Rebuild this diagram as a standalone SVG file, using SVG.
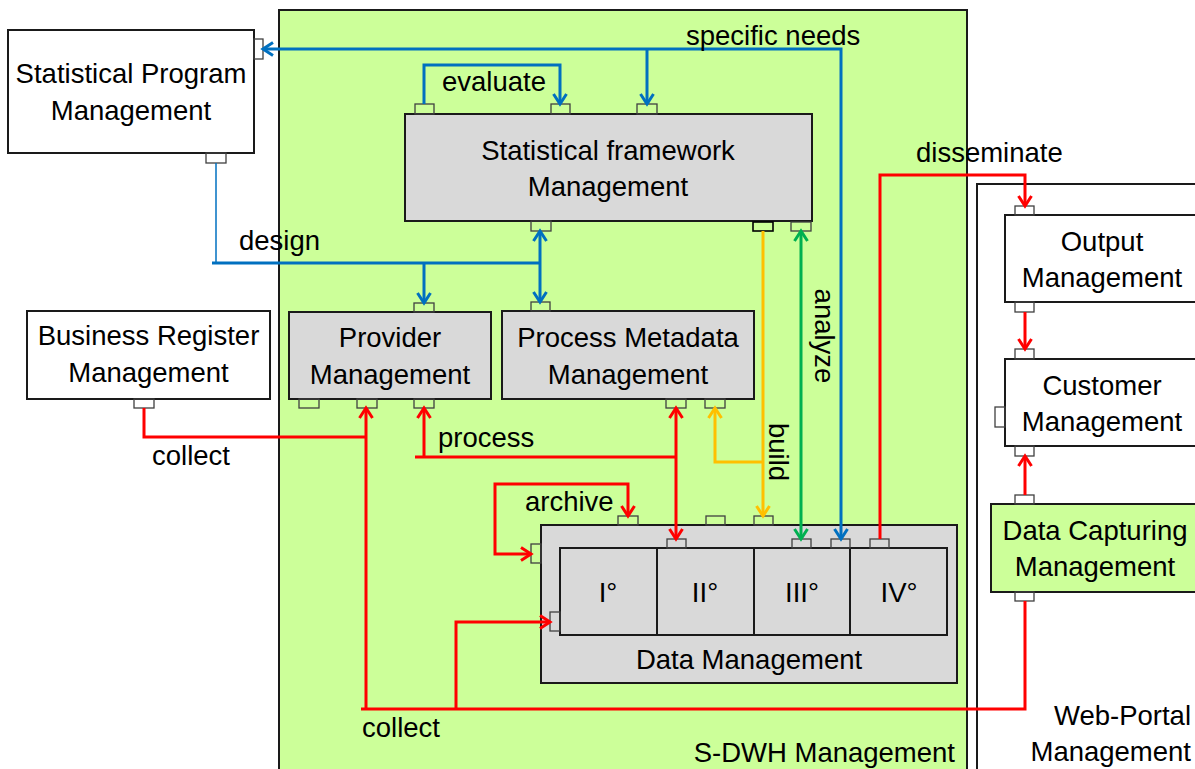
<svg xmlns="http://www.w3.org/2000/svg" width="1195" height="769" viewBox="0 0 1195 769">
<style>
text{font-family:"Liberation Sans",Arial,sans-serif;font-size:27.5px;fill:#000}
.c{text-anchor:middle}
.box{stroke:#1a1a1a;stroke-width:2}
.w{fill:#fff}
.g{fill:#d9d9d9}
.gr{fill:#ccff99}
.port{fill:none;stroke:#404040;stroke-width:1.3}
.ln{fill:none;stroke-width:3;stroke-linejoin:miter}
.blue{stroke:#0070c0}
.red{stroke:#ff0000}
.yel{stroke:#ffc000}
.grn{stroke:#00b050}
</style>
<defs>
<marker id="ab" markerUnits="userSpaceOnUse" markerWidth="16" markerHeight="18" refX="12" refY="9" orient="auto-start-reverse" overflow="visible"><path d="M2,2.5 L12,9 L2,15.5" fill="none" stroke="#0070c0" stroke-width="3"/></marker>
<marker id="ar" markerUnits="userSpaceOnUse" markerWidth="16" markerHeight="18" refX="12" refY="9" orient="auto-start-reverse" overflow="visible"><path d="M2,2.5 L12,9 L2,15.5" fill="none" stroke="#ff0000" stroke-width="3"/></marker>
<marker id="ay" markerUnits="userSpaceOnUse" markerWidth="16" markerHeight="18" refX="12" refY="9" orient="auto-start-reverse" overflow="visible"><path d="M2,2.5 L12,9 L2,15.5" fill="none" stroke="#ffc000" stroke-width="3"/></marker>
<marker id="ag" markerUnits="userSpaceOnUse" markerWidth="16" markerHeight="18" refX="12" refY="9" orient="auto-start-reverse" overflow="visible"><path d="M2,2.5 L12,9 L2,15.5" fill="none" stroke="#00b050" stroke-width="3"/></marker>
</defs>
<rect width="1195" height="769" fill="#fff"/>

<g id="sdwh">
<rect class="box gr" x="279" y="10" width="688" height="770"/>
<text x="955" y="762" text-anchor="end">S-DWH Management</text>
</g>
<g id="webportal">
<rect class="box w" x="977" y="184" width="230" height="600"/>
<text x="1191" y="725" text-anchor="end">Web-Portal</text>
<text x="1191" y="761" text-anchor="end">Management</text>
</g>

<g id="spm">
<rect class="box w" x="8" y="30" width="246" height="123"/>
<text class="c" x="131" y="83">Statistical Program</text>
<text class="c" x="131" y="120">Management</text>
<rect class="port" x="254" y="39" width="9" height="20"/>
<rect class="port" x="206" y="153" width="20" height="10"/>
</g>

<g id="brm">
<rect class="box w" x="27" y="311" width="243" height="88"/>
<text class="c" x="148.5" y="345">Business Register</text>
<text class="c" x="148.5" y="382">Management</text>
<rect class="port" x="134" y="399" width="20" height="9"/>
</g>

<g id="sfm">
<rect class="box g" x="405" y="114" width="407" height="107"/>
<text class="c" x="608" y="160">Statistical framework</text>
<text class="c" x="608" y="196">Management</text>
<rect class="port" x="415" y="104" width="19" height="10"/>
<rect class="port" x="551" y="104" width="19" height="10"/>
<rect class="port" x="637" y="104" width="20" height="10"/>
<rect class="port" x="531" y="221" width="20" height="10"/>
<rect class="port" x="753" y="222" width="20" height="9" style="stroke:#000;stroke-width:1.6"/>
<rect class="port" x="791" y="222" width="20" height="9"/>
</g>

<g id="provider">
<rect class="box g" x="289" y="312" width="202" height="87"/>
<text class="c" x="390" y="347">Provider</text>
<text class="c" x="390" y="384">Management</text>
<rect class="port" x="414" y="303" width="20" height="9"/>
<rect class="port" x="299" y="399" width="20" height="9"/>
<rect class="port" x="357" y="399" width="20" height="9"/>
<rect class="port" x="414" y="399" width="20" height="9"/>
</g>

<g id="pmm">
<rect class="box g" x="502" y="311" width="252" height="88"/>
<text class="c" x="628" y="347">Process Metadata</text>
<text class="c" x="628" y="384">Management</text>
<rect class="port" x="531" y="302" width="19" height="9"/>
<rect class="port" x="666" y="399" width="20" height="9"/>
<rect class="port" x="705" y="399" width="20" height="9"/>
</g>

<g id="dm">
<rect class="box g" x="541" y="525" width="416" height="158"/>
<rect class="box g" x="560" y="548" width="387" height="87"/>
<path d="M657,548V635M754,548V635M850,548V635" stroke="#1a1a1a" stroke-width="2"/>
<text class="c" x="608" y="602">I°</text>
<text class="c" x="705" y="602">II°</text>
<text class="c" x="802" y="602">III°</text>
<text class="c" x="899" y="602">IV°</text>
<text class="c" x="749" y="669">Data Management</text>
<rect class="port" x="618" y="516" width="20" height="9"/>
<rect class="port" x="706" y="516" width="19" height="9"/>
<rect class="port" x="754" y="516" width="19" height="9"/>
<rect class="port" x="531" y="544" width="10" height="19"/>
<rect class="port" x="667" y="539" width="19" height="9"/>
<rect class="port" x="792" y="539" width="19" height="9"/>
<rect class="port" x="831" y="539" width="19" height="9"/>
<rect class="port" x="870" y="539" width="19" height="9"/>
<rect class="port" x="550" y="612" width="10" height="19"/>
</g>

<g id="output">
<rect class="box w" x="1005" y="215" width="200" height="87"/>
<text class="c" x="1102" y="251">Output</text>
<text class="c" x="1102" y="287">Management</text>
<rect class="port" x="1015" y="206" width="19" height="9"/>
<rect class="port" x="1015" y="302" width="19" height="10"/>
</g>

<g id="customer">
<rect class="box w" x="1005" y="359" width="200" height="87"/>
<text class="c" x="1102" y="395">Customer</text>
<text class="c" x="1102" y="431">Management</text>
<rect class="port" x="1015" y="349" width="19" height="10"/>
<rect class="port" x="995" y="407" width="10" height="20"/>
<rect class="port" x="1015" y="446" width="19" height="10"/>
</g>

<g id="dcm">
<rect class="box gr" x="991" y="504" width="215" height="88"/>
<text class="c" x="1095" y="540">Data Capturing</text>
<text class="c" x="1095" y="576">Management</text>
<rect class="port" x="1015" y="495" width="19" height="9"/>
<rect class="port" x="1015" y="592" width="19" height="9"/>
</g>

<g id="connectors">
<path class="ln blue" d="M841,539V49H263" marker-start="url(#ab)" marker-end="url(#ab)"/>
<path class="ln blue" d="M647,49V104" marker-end="url(#ab)"/>
<path class="ln blue" d="M424,104V65H560V104" marker-end="url(#ab)"/>
<path fill="none" class="blue" stroke-width="1.5" d="M216,163V263"/>
<path class="ln blue" d="M212,263H540"/>
<path class="ln blue" d="M424,263V303" marker-end="url(#ab)"/>
<path class="ln blue" d="M540,231V302" marker-start="url(#ab)" marker-end="url(#ab)"/>

<path class="ln red" d="M366,709V408" marker-end="url(#ar)"/>
<path class="ln red" d="M361,709H1025V601"/>
<path class="ln red" d="M144,408V437H366"/>
<path class="ln red" d="M456,709V622H550" marker-end="url(#ar)"/>
<path class="ln red" d="M415,457H676"/>
<path class="ln red" d="M424,457V408" marker-end="url(#ar)"/>
<path class="ln red" d="M676,408V539" marker-start="url(#ar)" marker-end="url(#ar)"/>
<path class="ln red" d="M628,516V484H495V554H531" marker-start="url(#ar)" marker-end="url(#ar)"/>
<path class="ln red" d="M880,539V175H1025V206" marker-end="url(#ar)"/>
<path class="ln red" d="M1025,312V349" marker-end="url(#ar)"/>
<path class="ln red" d="M1025,495V456" marker-end="url(#ar)"/>

<path class="ln yel" d="M763,231V516" marker-end="url(#ay)"/>
<path class="ln yel" d="M763,462H715V408" marker-end="url(#ay)"/>

<path class="ln grn" d="M801,231V539" marker-start="url(#ag)" marker-end="url(#ag)"/>
</g>

<g id="labels">
<text x="686" y="45">specific needs</text>
<text x="442" y="91">evaluate</text>
<text x="239" y="250">design</text>
<text x="916" y="162">disseminate</text>
<text x="152" y="465">collect</text>
<text x="438" y="447">process</text>
<text x="525" y="511">archive</text>
<text x="362" y="737">collect</text>
<text transform="translate(815,336) rotate(90)" class="c">analyze</text>
<text transform="translate(768.5,452) rotate(90)" class="c">build</text>
</g>
</svg>
